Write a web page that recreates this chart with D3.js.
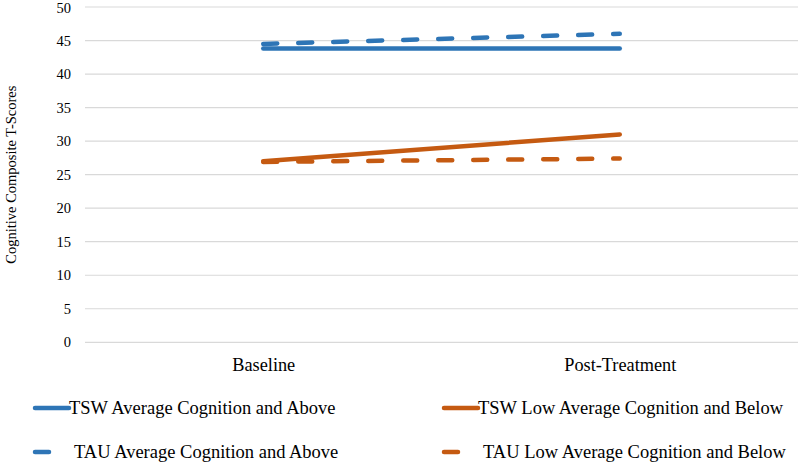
<!DOCTYPE html>
<html>
<head>
<meta charset="utf-8">
<script src="https://cdn.jsdelivr.net/npm/d3@7"></script>
<style>
  html, body { margin: 0; padding: 0; background: #fff; }
  svg { display: block; font-family: "Liberation Serif", "Times New Roman", serif; }
</style>
</head>
<body>
<svg id="chart" width="800" height="462"></svg>
<script>
const categories = ["Baseline", "Post-Treatment"];
const yTicks = [0, 5, 10, 15, 20, 25, 30, 35, 40, 45, 50];
const seriesNames = [
  "TSW Average Cognition and Above",
  "TSW Low Average Cognition and Below",
  "TAU Average Cognition and Above",
  "TAU Low Average Cognition and Below"
];
const tswAverage = [43.8, 43.8];
const tswLow = [27.0, 31.0];
const tauAverage = [44.5, 46.0];
const tauLow = [26.9, 27.4];
const yTitle = "Cognitive Composite T-Scores";

const series = [
  { name: seriesNames[0], values: tswAverage, color: "#2e75b6", dashed: false },
  { name: seriesNames[1], values: tswLow, color: "#c55a11", dashed: false },
  { name: seriesNames[2], values: tauAverage, color: "#2e75b6", dashed: true },
  { name: seriesNames[3], values: tauLow, color: "#c55a11", dashed: true }
];

const FONT = '"Liberation Serif", "Times New Roman", serif';
const svg = d3.select("#chart");
const plot = { left: 85, right: 798, top: 7, bottom: 342.3 };

const x = d3.scalePoint().domain(categories).range([plot.left, plot.right]).padding(0.5);
const y = d3.scaleLinear().domain([0, 50]).range([plot.bottom, plot.top]);

// gridlines
svg.append("g").selectAll("line").data(yTicks).join("line")
  .attr("x1", plot.left).attr("x2", plot.right)
  .attr("y1", d => y(d)).attr("y2", d => y(d))
  .attr("stroke", "#d9d9d9").attr("stroke-width", 1.2);

// y axis labels
const yAxis = d3.axisLeft(y).tickValues(yTicks).tickSize(0).tickPadding(0);
const yg = svg.append("g").attr("transform", `translate(${71},0)`).call(yAxis);
yg.attr("font-family", null);
yg.select(".domain").remove();
yg.selectAll("text").attr("font-size", 14.5).attr("fill", "#000").style("font-family", FONT);
yg.selectAll("text").filter(d => d === 50).attr("dy", "0.4em");

// x axis labels
const xAxis = d3.axisBottom(x).tickSize(0).tickPadding(0);
const xg = svg.append("g").attr("transform", `translate(0,${358})`).call(xAxis);
xg.attr("font-family", null);
xg.select(".domain").remove();
xg.selectAll("text").attr("font-size", 18.3).attr("fill", "#000").style("font-family", FONT);

// y title
svg.append("text")
  .attr("transform", `translate(16,${(plot.top + plot.bottom) / 2}) rotate(-90)`)
  .attr("text-anchor", "middle")
  .attr("font-size", 14.5)
  .attr("fill", "#000")
  .style("font-family", FONT)
  .text(yTitle);

// lines
const line = d3.line().x((d, i) => x(categories[i])).y(d => y(d));
const drawOrder = [series[2], series[3], series[0], series[1]];
svg.append("g").selectAll("path").data(drawOrder).join("path")
  .attr("d", d => line(d.values))
  .attr("fill", "none")
  .attr("stroke", d => d.color)
  .attr("stroke-width", 4.5)
  .attr("stroke-linecap", "round")
  .attr("stroke-dasharray", d => d.dashed ? "14,21" : null);

// legend
const legendPos = [
  { x: 35, y: 408 }, { x: 444, y: 408 },
  { x: 35, y: 452 }, { x: 444, y: 452 }
];
const lg = svg.append("g").selectAll("g").data(series).join("g")
  .attr("transform", (d, i) => `translate(${legendPos[i].x},${legendPos[i].y})`);
lg.append("line")
  .attr("x1", 0).attr("x2", 34).attr("y1", 0).attr("y2", 0)
  .attr("stroke", d => d.color).attr("stroke-width", 4.5)
  .attr("stroke-linecap", "round")
  .attr("stroke-dasharray", d => d.dashed ? "14,21" : null);
lg.append("text")
  .attr("x", (d, i) => d.dashed ? 39 : 34)
  .attr("y", 0)
  .attr("dy", "0.35em")
  .attr("font-size", 18.5)
  .attr("fill", "#000")
  .style("font-family", FONT)
  .text(d => d.name);
</script>
</body>
</html>
